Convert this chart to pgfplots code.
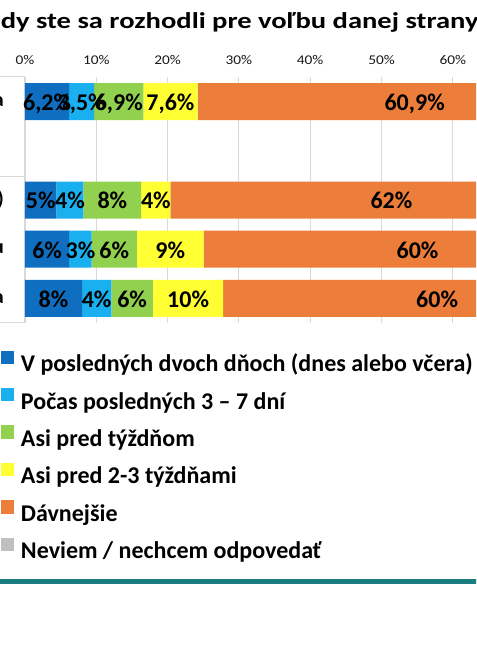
\documentclass[border=0pt]{standalone}
\usepackage{pgfplots}
\pgfplotsset{compat=1.18}
\usepackage{fontspec}
\setmainfont{Carlito}
\newfontfamily\titlefont[FakeStretch=1.26]{Carlito}
\newfontfamily\tickfont[FakeStretch=1.15]{Carlito}
\definecolor{c1}{HTML}{0F6EC0}
\definecolor{c2}{HTML}{1AAFEE}
\definecolor{c3}{HTML}{92D050}
\definecolor{c4}{HTML}{FFFF33}
\definecolor{c5}{HTML}{ED7D3A}
\definecolor{c6}{HTML}{BFBFBF}
\definecolor{gridc}{HTML}{D9D9D9}
\definecolor{tealc}{HTML}{1A7E80}
\begin{document}
\begin{tikzpicture}[x=0.75pt,y=0.75pt]
\path[use as bounding box] (0,0) rectangle (476,650);
\clip (0,0) rectangle (476,650);
\node[anchor=base west, inner sep=0pt, font=\titlefont\bfseries\fontsize{17}{20}\selectfont] at (0.5,621.7) {\llap{Ke}dy ste sa rozhodli pre voľbu danej strany?};
\begin{axis}[
  at={(18.75pt,245.25pt)}, anchor=south west,
  scale only axis, width=534.75pt, height=184.5pt,
  xbar stacked, bar width=27.75pt,
  xmin=0, xmax=100, ymin=-0.5, ymax=4.5,
  xtick={0,10,20,30,40,50,60,70,80,90,100},
  xticklabels={0\%,10\%,20\%,30\%,40\%,50\%,60\%,70\%,80\%,90\%,100\%},
  xticklabel pos=upper,
  xticklabel style={anchor=base, inner sep=0pt, yshift=9.75pt, font=\tickfont\fontsize{10}{10}\selectfont, text=black!90},
  ytick={0,1,2,3,4}, yticklabels={a,u,),{},a},
  yticklabel style={anchor=east, inner sep=0pt, xshift=-15.75pt, font=\bfseries\fontsize{15}{15}\selectfont},
  major tick length=0pt,
  xmajorgrids, grid style={draw=gridc, line width=0.75pt},
  separate axis lines,
  axis line style={draw=gridc, line width=0.75pt},
  x axis line style={draw=none},
  legend style={at={(-0.0337,-0.1118)}, anchor=north west, draw=none, fill=none, inner sep=0pt, outer sep=0pt, row sep=8.3pt,
    font=\bfseries\fontsize{18}{21}\selectfont,
    nodes={inner sep=0pt, text height=14pt, text depth=4pt}},
  legend cell align=left,
  legend image code/.code={\path[fill=none,draw=none] (0pt,0pt) rectangle (15pt,10.8pt); \fill[#1] (0pt,0.75pt) rectangle (10pt,10.8pt);},
]
\addplot[fill=c1, draw=none] coordinates {(6.2,4) (0,3) (4.4,2) (6.2,1) (8.0,0)};
\addlegendentry{V posledných dvoch dňoch (dnes alebo včera)}
\addplot[fill=c2, draw=none] coordinates {(3.5,4) (0,3) (3.8,2) (3.15,1) (4.1,0)};
\addlegendentry{Počas posledných 3 – 7 dní}
\addplot[fill=c3, draw=none] coordinates {(6.9,4) (0,3) (8.1,2) (6.35,1) (5.85,0)};
\addlegendentry{Asi pred týždňom}
\addplot[fill=c4, draw=none] coordinates {(7.6,4) (0,3) (4.1,2) (9.35,1) (9.85,0)};
\addlegendentry{Asi pred 2-3 týždňami}
\addplot[fill=c5, draw=none] coordinates {(60.9,4) (0,3) (62,2) (60,1) (60,0)};
\addlegendentry{Dávnejšie}
\addplot[fill=c6, draw=none] coordinates {(14.9,4) (0,3) (17.6,2) (14.95,1) (12.2,0)};
\addlegendentry{Neviem / nechcem odpovedať}
\end{axis}
\begin{axis}[
  at={(18.75pt,245.25pt)}, anchor=south west,
  scale only axis, width=534.75pt, height=184.5pt,
  xmin=0, xmax=100, ymin=-0.5, ymax=4.5, hide axis,
]
\addplot[draw=none, mark=none, nodes near coords, point meta=explicit symbolic,
  nodes near coords style={anchor=base, yshift=-6.75pt, font=\bfseries\fontsize{18}{18}\selectfont, text=black}]
  coordinates {
  (3.1,4) [6,2\%] (7.95,4) [3,5\%] (13.15,4) [6,9\%] (20.4,4) [7,6\%] (54.65,4) [60,9\%] (92.55,4) [14,9\%]
  (2.2,2) [5\%] (6.3,2) [4\%] (12.25,2) [8\%] (18.35,2) [4\%] (51.4,2) [62\%] (91.2,2) [18\%]
  (3.1,1) [6\%] (7.775,1) [3\%] (12.525,1) [6\%] (20.375,1) [9\%] (55.05,1) [60\%] (92.5,1) [15\%]
  (4.0,0) [8\%] (10.05,0) [4\%] (15.025,0) [6\%] (22.875,0) [10\%] (57.8,0) [60\%] (93.9,0) [12\%]
  };
\end{axis}
\draw[gridc, line width=0.75pt] (-5,573) -- (25,573);
\draw[gridc, line width=0.75pt] (-5,473) -- (25,473);
\draw[gridc, line width=0.75pt] (-5,327) -- (25,327);
\draw[tealc, line width=3.75pt] (-5,68) -- (481,68);
\end{tikzpicture}
\end{document}
